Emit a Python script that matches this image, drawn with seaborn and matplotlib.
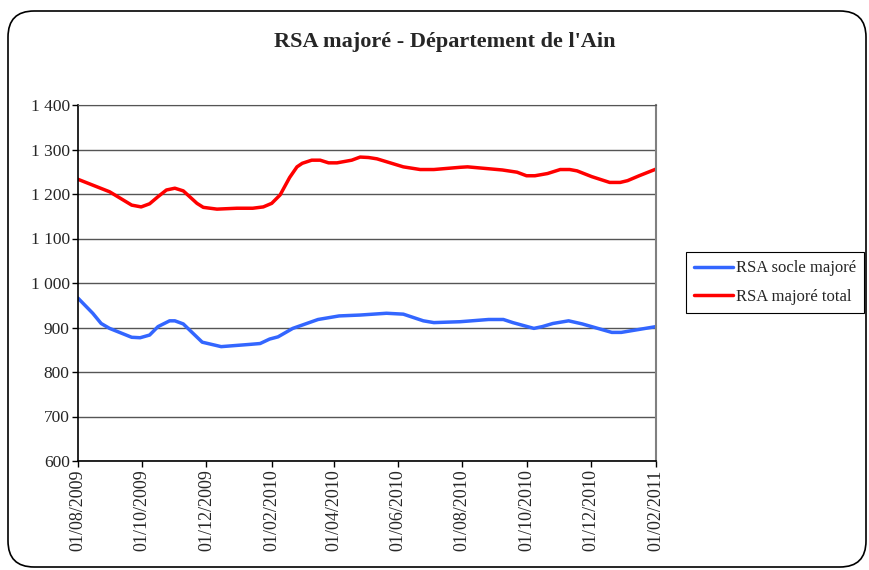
import matplotlib
matplotlib.use("Agg")
import matplotlib.pyplot as plt
import matplotlib.dates as mdates
from matplotlib.patches import FancyBboxPatch
import pandas as pd
import seaborn as sns

title = "RSA majoré - Département de l'Ain"
series_names = ["RSA socle majoré", "RSA majoré total"]
colors = ["#3366FF", "#FF0000"]

socle_dates = ["2009-08-01", "2009-08-15", "2009-08-23", "2009-08-31", "2009-09-21", "2009-09-29",
               "2009-10-08", "2009-10-16", "2009-10-27", "2009-11-01", "2009-11-09", "2009-11-27",
               "2009-12-15", "2010-01-11", "2010-01-21", "2010-01-30", "2010-02-07", "2010-02-21",
               "2010-03-17", "2010-04-06", "2010-04-26", "2010-05-21", "2010-06-06", "2010-06-25",
               "2010-07-05", "2010-07-30", "2010-08-26", "2010-09-09", "2010-09-18", "2010-10-08",
               "2010-10-16", "2010-10-26", "2010-11-10", "2010-11-23", "2010-12-21", "2010-12-30",
               "2011-02-01"]
socle_values = [966, 932, 909, 898, 878, 877,
                883, 902, 915, 915, 908, 867,
                857, 862, 864, 874, 879, 898,
                918, 926, 928, 932, 930, 915,
                911, 913, 918, 918, 911, 898,
                902, 909, 915, 908, 889, 889,
                902]

total_dates = ["2009-08-01", "2009-08-31", "2009-09-21", "2009-09-30", "2009-10-08", "2009-10-16",
               "2009-10-24", "2009-11-01", "2009-11-09", "2009-11-22", "2009-11-28", "2009-12-11",
               "2009-12-30", "2010-01-14", "2010-01-24", "2010-02-01", "2010-02-09", "2010-02-18",
               "2010-02-25", "2010-03-02", "2010-03-11", "2010-03-19", "2010-03-27", "2010-04-04",
               "2010-04-18", "2010-04-26", "2010-05-04", "2010-05-12", "2010-06-06", "2010-06-22",
               "2010-07-05", "2010-07-30", "2010-08-06", "2010-09-08", "2010-09-22", "2010-10-01",
               "2010-10-09", "2010-10-21", "2010-11-02", "2010-11-11", "2010-11-18", "2010-12-02",
               "2010-12-19", "2010-12-29", "2011-01-05", "2011-01-16", "2011-02-01"]
total_values = [1233, 1205, 1175, 1171, 1178, 1194,
                1209, 1213, 1207, 1179, 1170, 1166,
                1168, 1168, 1171, 1179, 1198, 1237,
                1261, 1269, 1276, 1276, 1270, 1270,
                1276, 1283, 1282, 1279, 1261, 1255,
                1255, 1260, 1261, 1254, 1249, 1241,
                1241, 1246, 1255, 1255, 1252, 1239,
                1226, 1226, 1230, 1241, 1256]

y_ticks = [600, 700, 800, 900, 1000, 1100, 1200, 1300, 1400]
y_tick_labels = ["600", "700", "800", "900", "1 000", "1 100", "1 200", "1 300", "1 400"]
x_ticks = ["2009-08-01", "2009-10-01", "2009-12-01", "2010-02-01", "2010-04-01", "2010-06-01",
           "2010-08-01", "2010-10-01", "2010-12-01", "2011-02-01"]

df = pd.concat([
    pd.DataFrame({"date": pd.to_datetime(socle_dates), "value": socle_values, "serie": series_names[0]}),
    pd.DataFrame({"date": pd.to_datetime(total_dates), "value": total_values, "serie": series_names[1]}),
])

sns.set_style("white")
plt.rcParams["font.family"] = ["Liberation Serif", "DejaVu Serif"]

fig = plt.figure(figsize=(8.7, 5.7), dpi=100)
ax = fig.add_axes([78 / 870, 1 - 461 / 570, 578 / 870, 356 / 570])

sns.lineplot(data=df, x="date", y="value", hue="serie", palette=dict(zip(series_names, colors)),
             linewidth=2.5, ax=ax, legend=False, estimator=None, sort=False)

ax.set_xlim(pd.Timestamp(x_ticks[0]), pd.Timestamp(x_ticks[-1]))
ax.set_ylim(600, 1400)
ax.set_yticks(y_ticks)
ax.set_yticklabels(y_tick_labels, fontsize=12.5)
ax.set_xticks(pd.to_datetime(x_ticks))
ax.xaxis.set_major_formatter(mdates.DateFormatter("%d/%m/%Y"))
for lab in ax.get_xticklabels():
    lab.set_rotation(90)
    lab.set_fontsize(13)
ax.set_xlabel("")
ax.set_ylabel("")
ax.grid(axis="y", color="#555555", linewidth=1)
ax.grid(axis="x", visible=False)
ax.tick_params(axis="both", direction="out", length=4, width=1, color="black", pad=2,
               bottom=True, left=True)
for side in ["left", "bottom"]:
    ax.spines[side].set_color("black")
    ax.spines[side].set_linewidth(1.2)
ax.spines["top"].set_color("#555555")
ax.spines["right"].set_color("#808080")
ax.spines["right"].set_linewidth(1.5)
ax.set_axisbelow(True)

fig.text(445 / 870, 1 - 42 / 570, title, ha="center", va="center", fontsize=16, fontweight="bold")

handles = [plt.Line2D([], [], color=c, linewidth=2.5) for c in colors]
leg = fig.legend(handles, series_names, loc="upper left",
                 bbox_to_anchor=(686 / 870, 1 - 252 / 570), bbox_transform=fig.transFigure,
                 fontsize=12, frameon=True, fancybox=False, edgecolor="black", framealpha=1,
                 handlelength=2.3, handletextpad=0.2, borderpad=0.5, labelspacing=0.75,
                 borderaxespad=0)
leg.get_frame().set_linewidth(0.8)

border = FancyBboxPatch((8 / 870, 1 - 567 / 570), 858 / 870, 556 / 570,
                        boxstyle="round,pad=0,rounding_size=0.03", transform=fig.transFigure,
                        facecolor="none", edgecolor="black", linewidth=1.2, mutation_aspect=870 / 570)
fig.patches.append(border)

fig.savefig("out.png", dpi=100)
